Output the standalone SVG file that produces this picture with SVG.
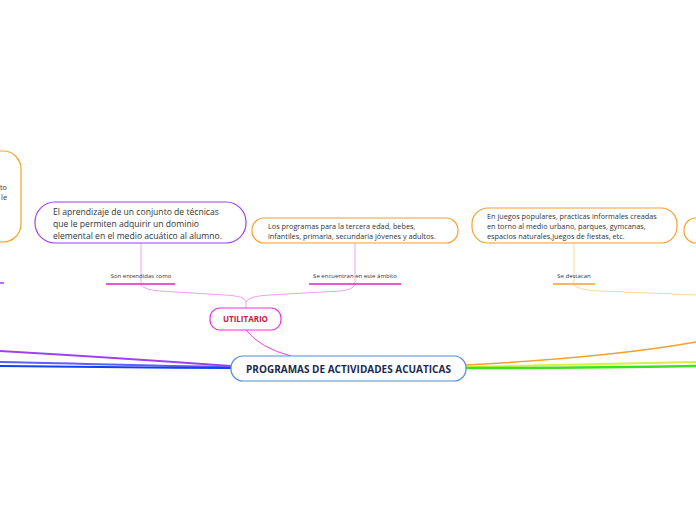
<svg xmlns="http://www.w3.org/2000/svg" width="696" height="520" viewBox="0 0 696 520">
<style>
text{font-family:"Open Sans","Noto Sans","DejaVu Sans",sans-serif;fill:#333}
.sm{font-size:7.3px}
.lbl{font-size:6px;fill:#333}
.c{fill:none}
</style>
<rect width="696" height="520" fill="#fff"/>
<g id="connectors" class="c">
<path d="M231,366 Q120,358 0,351" stroke="#a040f0" stroke-width="2"/>
<path d="M231,367 C150,366 60,363 0,362" stroke="#6060f0" stroke-width="2"/>
<path d="M231,368 C150,368 60,366 0,366" stroke="#1040f0" stroke-width="2"/>
<path d="M466,365 C560,360 640,352 696,342" stroke="#f5a030" stroke-width="1.5"/>
<path d="M466,367 C560,365 640,363 696,362" stroke="#d8f040" stroke-width="2"/>
<path d="M466,368 C560,368 640,367 696,366" stroke="#40e020" stroke-width="2.5"/>
<path d="M246,330 Q260,348 291,356" stroke="#f040e0" stroke-width="1"/>
<path d="M246,308 L246,302 Q246,296 225,295 L160,291 Q145,290 141,285" stroke="#f7a0ee" stroke-width="1"/>
<path d="M246,302 Q248,296 270,295 L340,291 Q352,290 355,285" stroke="#f7a0ee" stroke-width="1"/>
<path d="M141,284 V243" stroke="#f7a0ee" stroke-width="1"/>
<path d="M355,284 V243" stroke="#f7a0ee" stroke-width="1"/>
<path d="M574,284 V243" stroke="#fcd8a0" stroke-width="1"/>
<path d="M574,285 Q578,290 600,291 L696,295" stroke="#fcd8a0" stroke-width="1"/>
<path d="M106,284 H175" stroke="#e020c0" stroke-width="1.5"/>
<path d="M309,284 H401" stroke="#e020c0" stroke-width="1.5"/>
<path d="M553,284 H595" stroke="#f5a030" stroke-width="1.5"/>
<path d="M0,283 H4" stroke="#a040f0" stroke-width="1.5"/>
</g>
<g id="central">
<rect x="231" y="356" width="235" height="25" rx="12" fill="#fff" stroke="#4a90d9" stroke-width="1.2"/>
<text x="348.5" y="372.5" text-anchor="middle" style="font-size:10px;font-weight:bold;fill:#1a2a50">PROGRAMAS DE ACTIVIDADES ACUATICAS</text>
</g>
<g id="utilitario">
<rect x="210" y="308" width="71" height="22" rx="10" fill="#fff" stroke="#f030e0" stroke-width="1.2"/>
<text x="245.5" y="322" text-anchor="middle" style="font-size:8px;font-weight:bold;fill:#c8203c">UTILITARIO</text>
</g>
<g id="lbl-entendidas">
<text x="141" y="277.5" text-anchor="middle" class="lbl">Son entendidas como</text>
</g>
<g id="lbl-ambito">
<text x="355" y="277.5" text-anchor="middle" class="lbl">Se encuentran en este ámbito</text>
</g>
<g id="lbl-destacan">
<text x="574" y="277.5" text-anchor="middle" class="lbl">Se destacan</text>
</g>
<g id="node-aprendizaje">
<rect x="35" y="202" width="211" height="41" rx="20" fill="#fff" stroke="#a040f0" stroke-width="1.2"/>
<text x="53" y="215" style="font-size:8.6px">El aprendizaje de un conjunto de técnicas</text>
<text x="53" y="227" style="font-size:8.6px">que le permiten adquirir un dominio</text>
<text x="53" y="239" style="font-size:8.6px">elemental en el medio acuático al alumno.</text>
</g>
<g id="node-programas">
<rect x="252" y="218" width="206" height="25" rx="12" fill="#fff" stroke="#f5a030" stroke-width="1.2"/>
<text x="268" y="229" class="sm">Los programas para la tercera edad, bebes,</text>
<text x="268" y="238.5" class="sm">infantiles, primaria, secundaria jóvenes y adultos.</text>
</g>
<g id="node-juegos">
<rect x="472" y="208" width="205" height="35" rx="16" fill="#fff" stroke="#f5a030" stroke-width="1.2"/>
<text x="487" y="218.5" class="sm">En juegos populares, practicas informales creadas</text>
<text x="487" y="228.5" class="sm">en torno al medio urbano, parques, gymcanas,</text>
<text x="487" y="238.5" class="sm">espacios naturales,juegos de fiestas, etc.</text>
</g>
<g id="node-right">
<rect x="684" y="218" width="40" height="25" rx="12" fill="#fff" stroke="#f5a030" stroke-width="1.2"/>
</g>
<g id="node-left">
<rect x="-200" y="151" width="221" height="91" rx="18" fill="#fff" stroke="#f5a030" stroke-width="1.2"/>
<text x="7" y="190" text-anchor="end" class="sm">to</text>
<text x="7" y="200" text-anchor="end" class="sm">le</text>
</g>
</svg>
